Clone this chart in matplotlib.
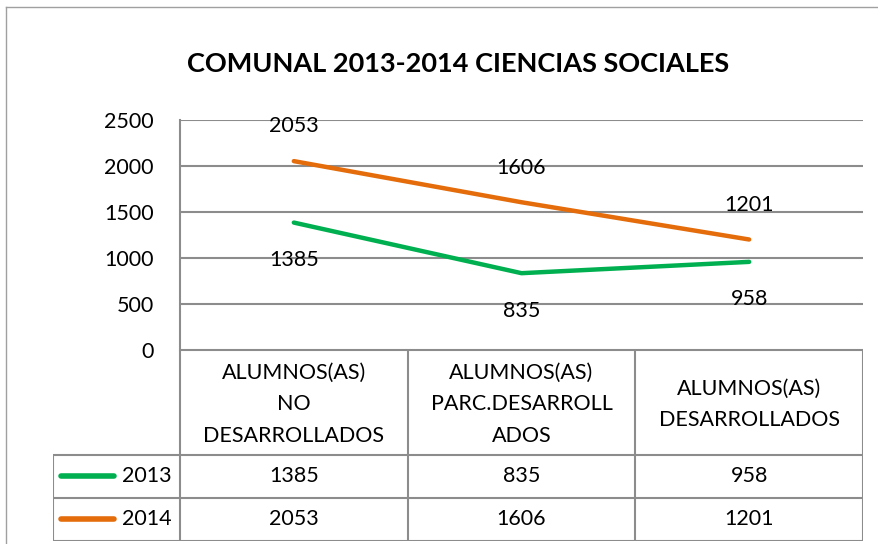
import matplotlib
matplotlib.use("Agg")
import matplotlib.pyplot as plt
from matplotlib.lines import Line2D

categories = ["ALUMNOS(AS)\nNO\nDESARROLLADOS",
              "ALUMNOS(AS)\nPARC.DESARROLL\nADOS",
              "ALUMNOS(AS)\nDESARROLLADOS"]
series_names = ["2013", "2014"]
values_2013 = [1385, 835, 958]
values_2014 = [2053, 1606, 1201]
yticks = [0, 500, 1000, 1500, 2000, 2500]
title = "COMUNAL 2013-2014 CIENCIAS SOCIALES"

GREEN = "#00B050"
ORANGE = "#E46C0A"
GRID = "#8C8C8C"
FS = 15.5

plt.rcParams['font.family'] = ['Lato', 'DejaVu Sans']

W, H = 879, 544
fig = plt.figure(figsize=(W / 100, H / 100), dpi=100)

def fx(px):
    return px / W

def fy(py):
    return 1 - py / H

# outer chart border (top and left only visible)
fig.add_artist(Line2D([fx(6), fx(879)], [fy(7), fy(7)], color="#A0A0A0", lw=1))
fig.add_artist(Line2D([fx(6), fx(6)], [fy(7), fy(544)], color="#A0A0A0", lw=1))

fig.text(fx(458), fy(64), title, ha="center", va="center",
         fontsize=19.5, fontweight="bold", color="black")

L, R, T, B = 180, 863, 120, 350
ax = fig.add_axes([fx(L), fy(B), fx(R - L), (B - T) / H])
n = len(categories)
ax.set_xlim(-0.5, n - 0.5)
ax.set_ylim(0, 2500)
ax.set_yticks(yticks)
ax.set_yticklabels([str(v) for v in yticks], fontsize=FS)
ax.tick_params(axis="y", length=0, pad=19)
ax.set_xticks([])
for s in ["top", "right", "bottom"]:
    ax.spines[s].set_visible(False)
ax.spines["left"].set_color(GRID)
ax.spines["left"].set_linewidth(1.5)
ax.yaxis.grid(True, color=GRID, lw=1.5)
ax.set_axisbelow(True)

xs = list(range(n))
ax.plot(xs, values_2013, color=GREEN, lw=3.2, solid_capstyle="round", zorder=3)
ax.plot(xs, values_2014, color=ORANGE, lw=3.2, solid_capstyle="round", zorder=3)
for x, v in zip(xs, values_2013):
    ax.annotate(str(v), (x, v), xytext=(0, -27), textcoords="offset points",
                ha="center", va="center", fontsize=FS, zorder=4)
for x, v in zip(xs, values_2014):
    ax.annotate(str(v), (x, v), xytext=(0, 25), textcoords="offset points",
                ha="center", va="center", fontsize=FS, zorder=4)

# data table
TL, TB = 53, 541
colw = (R - L) / n
xl = -0.5 - (L - TL) / colw
axt = fig.add_axes([fx(TL), fy(TB), fx(R - TL), (TB - B) / H])
axt.set_xlim(xl, n - 0.5)
axt.set_ylim(TB, B)
axt.axis("off")
lc = dict(color=GRID, lw=1.5, solid_capstyle="butt")
r1, r2 = 455, 498
axt.plot([-0.5, n - 0.5], [B, B], **lc)
for yy in [r1, r2, TB]:
    axt.plot([xl, n - 0.5], [yy, yy], **lc)
axt.plot([xl, xl], [r1, TB], **lc)
for i in range(n + 1):
    axt.plot([i - 0.5, i - 0.5], [B, TB], **lc)
for i, c in enumerate(categories):
    axt.text(i, (B + r1) / 2 + 2, c, ha="center", va="center", fontsize=FS,
             linespacing=1.72)
rows = [(series_names[0], values_2013, GREEN, (r1 + r2) / 2),
        (series_names[1], values_2014, ORANGE, (r2 + TB) / 2)]
for name, vals, col, yc in rows:
    axt.plot([xl + 8 / colw, xl + 61 / colw], [yc, yc], color=col,
             lw=4, solid_capstyle="round")
    axt.text(-0.5 - 8 / colw, yc, name, ha="right", va="center", fontsize=FS)
    for i, v in enumerate(vals):
        axt.text(i, yc, str(v), ha="center", va="center", fontsize=FS)

fig.savefig("out.png", dpi=100)
